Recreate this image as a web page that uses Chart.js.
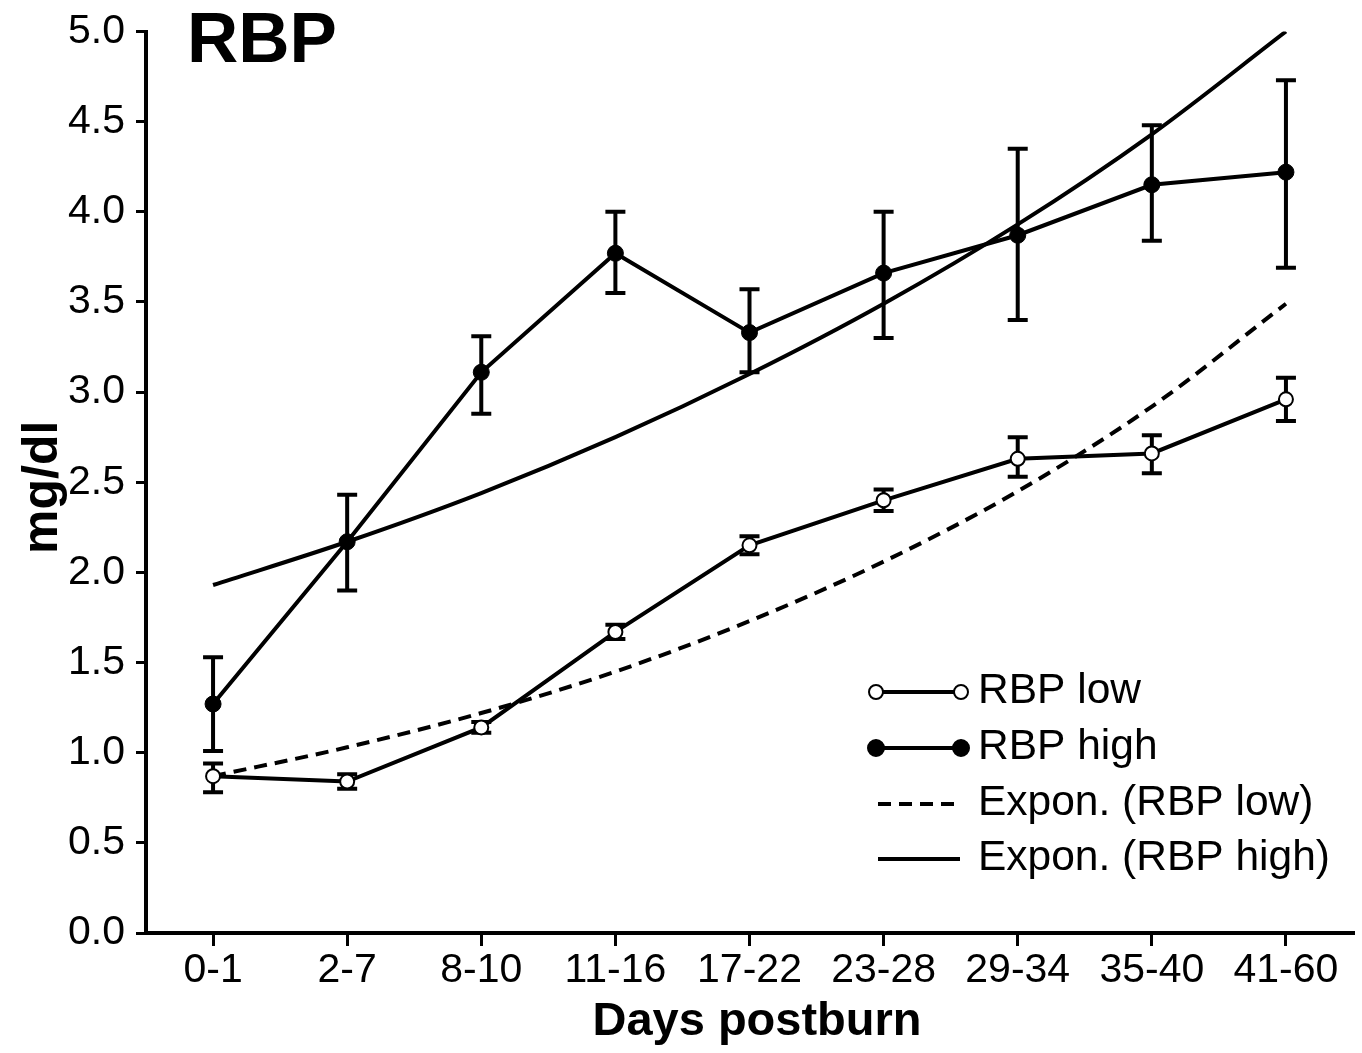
<!DOCTYPE html>
<html>
<head>
<meta charset="utf-8">
<script src="https://cdn.jsdelivr.net/npm/chart.js@4.4.1/dist/chart.umd.min.js"></script>
<style>
  html, body { margin: 0; padding: 0; background: #fff; }
  canvas { display: block; }
</style>
</head>
<body>
<canvas id="rbpChart" width="1362" height="1053"></canvas>
<script>
// Data
const categories = ['0-1', '2-7', '8-10', '11-16', '17-22', '23-28', '29-34', '35-40', '41-60'];

const rbpLow = [0.87, 0.84, 1.14, 1.67, 2.15, 2.40, 2.63, 2.66, 2.96];
const rbpLowUpper = [0.94, 0.88, 1.17, 1.71, 2.20, 2.46, 2.75, 2.76, 3.08];
const rbpLowLower = [0.78, 0.80, 1.11, 1.63, 2.10, 2.34, 2.53, 2.55, 2.84];

const rbpHigh = [1.27, 2.17, 3.11, 3.77, 3.33, 3.66, 3.87, 4.15, 4.22];
const rbpHighUpper = [1.53, 2.43, 3.31, 4.00, 3.57, 4.00, 4.35, 4.48, 4.73];
const rbpHighLower = [1.01, 1.90, 2.88, 3.55, 3.11, 3.30, 3.40, 3.84, 3.69];

const exponLow = [0.87, 1.03, 1.22, 1.45, 1.73, 2.06, 2.45, 2.92, 3.49];
const exponHigh = [1.93, 2.17, 2.44, 2.75, 3.10, 3.49, 3.93, 4.43, 5.00];

const legendLabels = ['RBP low', 'RBP high', 'Expon. (RBP low)', 'Expon. (RBP high)'];

const FONT = '"Liberation Sans", Arial, Helvetica, sans-serif';
const LINE_W = 4;

// Error bars drawn behind the lines and markers
const errorBarPlugin = {
    id: 'errorBars',
    beforeDatasetsDraw(chart) {
        const ctx = chart.ctx;
        const yScale = chart.scales.y;
        ctx.save();
        ctx.strokeStyle = '#000';
        ctx.lineWidth = LINE_W;
        ctx.lineCap = 'butt';
        chart.data.datasets.forEach((ds, i) => {
            if (!ds.upper) return;
            const meta = chart.getDatasetMeta(i);
            meta.data.forEach((pt, j) => {
                const yTop = yScale.getPixelForValue(ds.upper[j]);
                const yBot = yScale.getPixelForValue(ds.lower[j]);
                const x = pt.x;
                ctx.beginPath();
                ctx.moveTo(x, yTop);
                ctx.lineTo(x, yBot);
                ctx.moveTo(x - 10, yTop);
                ctx.lineTo(x + 10, yTop);
                ctx.moveTo(x - 10, yBot);
                ctx.lineTo(x + 10, yBot);
                ctx.stroke();
            });
        });
        ctx.restore();
    }
};

// Title, axis titles and the legend box
const annotationPlugin = {
    id: 'annotations',
    afterDraw(chart) {
        const ctx = chart.ctx;
        const area = chart.chartArea;
        ctx.save();
        ctx.fillStyle = '#000';

        ctx.font = 'bold 71px ' + FONT;
        ctx.textAlign = 'left';
        ctx.textBaseline = 'alphabetic';
        ctx.fillText('RBP', 187, 62);

        ctx.font = 'bold 47px ' + FONT;
        ctx.textAlign = 'center';
        ctx.fillText('Days postburn', 757, 1035);

        ctx.save();
        ctx.translate(57, (area.top + area.bottom) / 2 + 5);
        ctx.rotate(-Math.PI / 2);
        ctx.font = 'bold 50px ' + FONT;
        ctx.fillText('mg/dl', 0, 0);
        ctx.restore();

        // legend
        const x0 = 876, x1 = 961, tx = 978;
        const rows = [703, 759, 815, 870];
        ctx.font = '42.5px ' + FONT;
        ctx.textAlign = 'left';
        ctx.strokeStyle = '#000';
        rows.forEach((by, k) => {
            const ly = by - 11;
            ctx.lineWidth = LINE_W;
            ctx.setLineDash(k === 2 ? [13, 8] : []);
            ctx.beginPath();
            ctx.moveTo(k < 2 ? x0 : 878, ly);
            ctx.lineTo(k < 2 ? x1 : 960, ly);
            ctx.stroke();
            ctx.setLineDash([]);
            if (k < 2) {
                [x0, x1].forEach(mx => {
                    ctx.beginPath();
                    ctx.arc(mx, ly, k === 0 ? 7 : 8, 0, Math.PI * 2);
                    ctx.fillStyle = k === 0 ? '#fff' : '#000';
                    ctx.fill();
                    ctx.lineWidth = 2;
                    ctx.stroke();
                });
            }
            ctx.fillStyle = '#000';
            ctx.fillText(legendLabels[k], tx, by);
        });
        ctx.restore();
    }
};

Chart.defaults.font.family = FONT;
Chart.defaults.color = '#000';

const ctx = document.getElementById('rbpChart').getContext('2d');
const chart = new Chart(ctx, {
    type: 'line',
    data: {
        labels: categories,
        datasets: [
            {
                label: 'Expon. (RBP low)',
                data: exponLow,
                borderColor: '#000',
                borderWidth: LINE_W,
                borderDash: [13, 8],
                cubicInterpolationMode: 'monotone',
                pointRadius: 0,
                fill: false,
                order: 3
            },
            {
                label: 'Expon. (RBP high)',
                data: exponHigh,
                borderColor: '#000',
                borderWidth: LINE_W,
                cubicInterpolationMode: 'monotone',
                pointRadius: 0,
                fill: false,
                order: 4
            },
            {
                label: 'RBP low',
                data: rbpLow,
                upper: rbpLowUpper,
                lower: rbpLowLower,
                borderColor: '#000',
                borderWidth: LINE_W,
                tension: 0,
                pointRadius: 7,
                pointBorderWidth: 2,
                pointBackgroundColor: '#fff',
                pointBorderColor: '#000',
                fill: false,
                order: 1
            },
            {
                label: 'RBP high',
                data: rbpHigh,
                upper: rbpHighUpper,
                lower: rbpHighLower,
                borderColor: '#000',
                borderWidth: LINE_W,
                tension: 0,
                pointRadius: 8,
                pointBorderWidth: 1,
                pointBackgroundColor: '#000',
                pointBorderColor: '#000',
                fill: false,
                order: 2
            }
        ]
    },
    options: {
        responsive: false,
        animation: false,
        devicePixelRatio: 1,
        layout: {
            padding: { top: 31, right: 8, left: 0, bottom: 0 }
        },
        scales: {
            x: {
                offset: true,
                grid: {
                    drawOnChartArea: false,
                    drawTicks: true,
                    tickLength: 13,
                    color: '#000',
                    lineWidth: 3,
                    offset: false
                },
                border: { color: '#000', width: 4 },
                ticks: {
                    font: { size: 41 },
                    padding: 0,
                    maxRotation: 0,
                    autoSkip: false
                },
                afterFit(scale) { scale.height = 120; }
            },
            y: {
                min: 0,
                max: 5,
                grid: {
                    drawOnChartArea: false,
                    drawTicks: true,
                    tickLength: 10,
                    color: '#000',
                    lineWidth: 3
                },
                border: { color: '#000', width: 4 },
                ticks: {
                    stepSize: 0.5,
                    font: { size: 41, lineHeight: 1 },
                    padding: 11,
                    callback: value => value.toFixed(1)
                },
                afterFit(scale) { scale.width = 146; }
            }
        },
        plugins: {
            legend: { display: false },
            tooltip: { enabled: false },
            title: { display: false }
        }
    },
    plugins: [errorBarPlugin, annotationPlugin]
});
</script>
</body>
</html>
